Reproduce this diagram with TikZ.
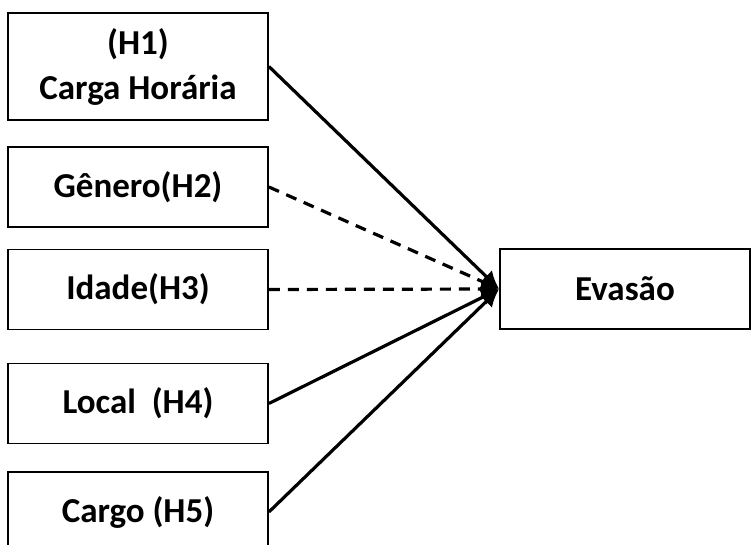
\documentclass[tikz,border=0pt]{standalone}
\usepackage{fontspec}
\setmainfont{Carlito}
\usetikzlibrary{arrows.meta, positioning}

\begin{document}
\begin{tikzpicture}[x=1pt, y=1pt,
    box/.style={draw, line width=1.8pt, minimum width=260pt,
                minimum height=80pt, align=center, inner sep=0pt,
                font=\fontsize{35}{38}\selectfont\bfseries},
    arrow/.style={-{Latex[length=18pt,width=17pt]}, line width=3.2pt},
    dasharrow/.style={arrow, dash pattern=on 11pt off 8pt}
  ]
  \useasboundingbox (0,0) rectangle (751,545);

  % Nodes
  \node[box, minimum height=107pt] (carga)  at (138,478.5) {(H1)\\[7pt]Carga Horária};
  \node[box] (genero) at (138,358)   {Gênero(H2)};
  \node[box] (idade)  at (138,255.5) {Idade(H3)};
  \node[box] (local)  at (138,141.5) {Local\ \ (H4)};
  \node[box] (cargo)  at (138,33)    {Cargo (H5)};

  \node[box, minimum width=250pt] (evasao) at (625,256) {Evasão};

  % Arrows: hypotheses -> evasao
  \draw[arrow]     (carga.east)  -- (evasao.west);
  \draw[dasharrow] (genero.east) -- (evasao.west);
  \draw[dasharrow] (idade.east)  -- (evasao.west);
  \draw[arrow]     (local.east)  -- (evasao.west);
  \draw[arrow]     (cargo.east)  -- (evasao.west);
\end{tikzpicture}
\end{document}
